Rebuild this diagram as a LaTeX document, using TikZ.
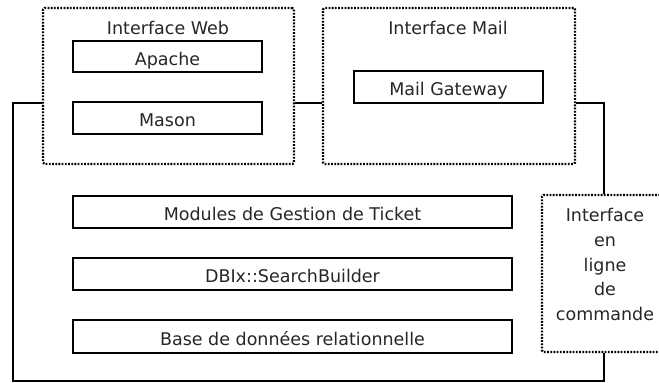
\documentclass[tikz,border=0pt]{standalone}
\usepackage{fontspec}
\setmainfont{DejaVu Sans}
\begin{document}
\begin{tikzpicture}[x=1pt,y=-1pt,
  every node/.style={font=\fontsize{17.5}{21}\selectfont, inner sep=0pt, text=black!85},
  solidbox/.style={draw=black, line width=2.2pt, minimum width=189pt, minimum height=32pt, text height=17.4pt, text depth=0pt},
  widebox/.style={solidbox, minimum width=439pt},
  dotbox/.style={draw=black, line width=2.2pt, dash pattern=on 1.8pt off 1.4pt, rounded corners=1.5pt},
  link/.style={draw=black, line width=2.2pt}]
\useasboundingbox (0,0) rectangle (659,383);
% containers
\node[dotbox, minimum width=251pt, minimum height=156pt] (web) at (168.5,86) {};
\node[dotbox, minimum width=252pt, minimum height=156pt] (mail) at (449,86) {};
\node[dotbox, minimum width=126pt, minimum height=157pt] (cli) at (605,273.5) {};
% labels
\node[anchor=base] (weblabel) at (168,34) {Interface Web};
\node[anchor=base] (maillabel) at (448,34) {Interface Mail};
\node[align=center, font=\fontsize{17.5}{24.6}\selectfont] (clilabel) at (605,264.5) {Interface\\en\\ligne\\de\\commande};
% inner boxes
\node[solidbox, minimum height=31pt] (apache) at (167.5,56.5) {Apache};
\node[solidbox] (mason) at (167.5,118) {Mason};
\node[solidbox] (gw) at (448.5,87) {Mail Gateway};
\node[widebox] (mod) at (292.5,212) {Modules de Gestion de Ticket};
\node[widebox] (dbix) at (292.5,274) {DBIx::SearchBuilder};
\node[widebox, minimum height=33pt] (base) at (292.5,336.5) {Base de données relationnelle};
% connectors
\coordinate (j1) at (13,103);
\coordinate (j2) at (13,381);
\coordinate (j3) at (604,381);
\coordinate (j4) at (604,103);
\draw[link] (web.west |- j1) -- (j1) -- (j2) -- (j3) -- (cli.south -| j3);
\draw[link] (web.east |- j1) -- (mail.west |- j1);
\draw[link] (mail.east |- j4) -- (j4) -- (cli.north -| j4);
\end{tikzpicture}
\end{document}
